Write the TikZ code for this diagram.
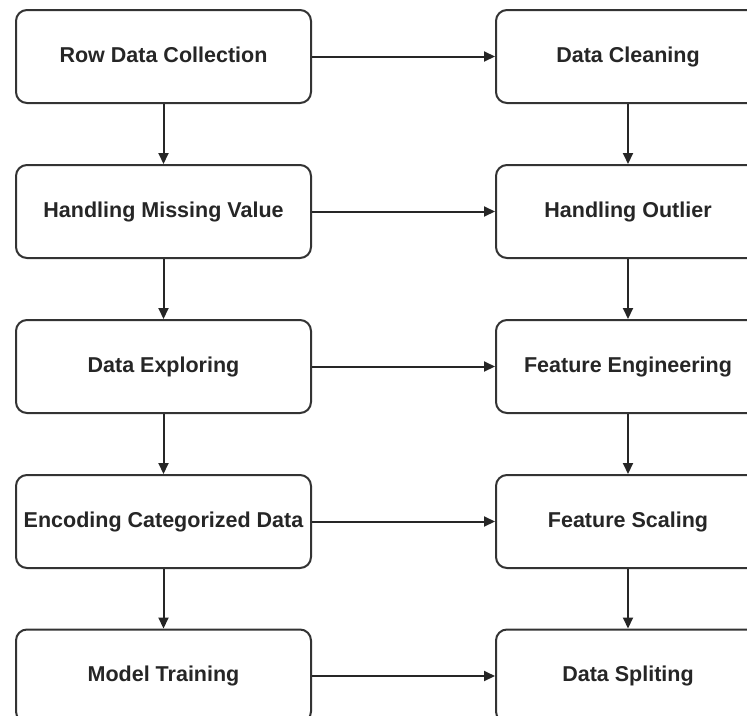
\documentclass[tikz,border=0pt]{standalone}
\usepackage{fontspec}
\setmainfont{Liberation Sans}
\usetikzlibrary{arrows.meta}
\begin{document}
\begin{tikzpicture}[x=1pt,y=-1pt,
  stepbox/.style={draw=black!80, line width=2pt, rounded corners=11pt, fill=white,
    minimum width=#1, minimum height=93pt, inner sep=0pt,
    text height=15.5pt, text depth=4.5pt,
    font=\fontsize{21.5}{25}\selectfont\bfseries, text=black!85},
  conn/.style={draw=black!85, line width=2pt, -{Triangle[length=11pt,width=10pt]}}]
\useasboundingbox (0,0) rectangle (747,715);
\clip (0,0) rectangle (747,715);
\fill[white] (0,0) rectangle (747,715);
\node[stepbox=295pt] (l1) at (163.5,56.5) {Row Data Collection};
\node[stepbox=295pt] (l2) at (163.5,211.5) {Handling Missing Value};
\node[stepbox=295pt] (l3) at (163.5,366.5) {Data Exploring};
\node[stepbox=295pt] (l4) at (163.5,521.5) {Encoding Categorized Data};
\node[stepbox=295pt] (l5) at (163.5,676) {Model Training};
\node[stepbox=264pt] (r1) at (628,56.5) {Data Cleaning};
\node[stepbox=264pt] (r2) at (628,211.5) {Handling Outlier};
\node[stepbox=264pt] (r3) at (628,366.5) {Feature Engineering};
\node[stepbox=264pt] (r4) at (628,521.5) {Feature Scaling};
\node[stepbox=264pt] (r5) at (628,676) {Data Spliting};
\foreach \i in {1,...,5} {\draw[conn] (l\i) -- (r\i);}
\foreach \i/\j in {1/2,2/3,3/4,4/5} {
  \draw[conn] (l\i) -- (l\j);
  \draw[conn] (r\i) -- (r\j);
}
\end{tikzpicture}
\end{document}
